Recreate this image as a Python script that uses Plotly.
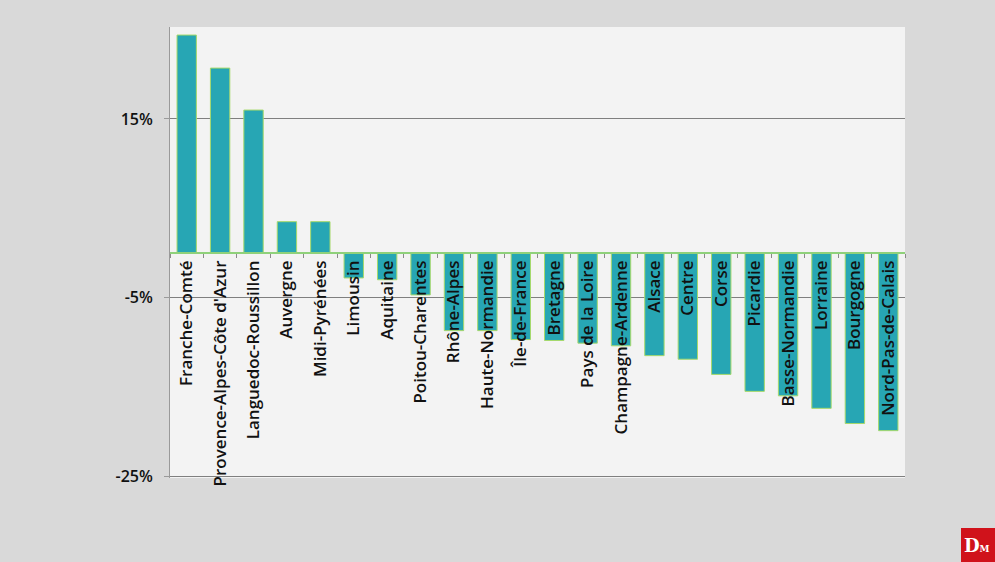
import plotly.graph_objects as go

regions = ["Franche-Comté", "Provence-Alpes-Côte d'Azur", "Languedoc-Roussillon", "Auvergne",
           "Midi-Pyrénées", "Limousin", "Aquitaine", "Poitou-Charentes", "Rhône-Alpes",
           "Haute-Normandie", "Île-de-France", "Bretagne", "Pays de la Loire",
           "Champagne-Ardenne", "Alsace", "Centre", "Corse", "Picardie", "Basse-Normandie",
           "Lorraine", "Bourgogne", "Nord-Pas-de-Calais"]
values = [24.4, 20.7, 16.0, 3.5, 3.5, -2.8, -3.0, -4.7, -8.7, -8.7, -9.7, -9.8, -10.1,
          -10.4, -11.5, -11.9, -13.6, -15.5, -16.0, -17.4, -19.1, -19.9]
y_ticks = [-25, -5, 15]
y_tick_labels = ["-25%", "-5%", "15%"]
y_range = [-25.2, 25.3]

fig = go.Figure(go.Bar(
    x=regions, y=values,
    marker=dict(color="#27a6b4", line=dict(color="#a6d96a", width=1)),
))

zero_pos = (0 - y_range[0]) / (y_range[1] - y_range[0])

def px_x(p):
    return (p - 170) / 735

def px_y(p):
    return (478 - p) / 451

fig.update_layout(
    width=995, height=562,
    margin=dict(l=170, r=90, t=27, b=84),
    paper_bgcolor="#d9d9d9",
    plot_bgcolor="#f3f3f3",
    bargap=0.42,
    showlegend=False,
    font=dict(family="Open Sans", color="#111111"),
    xaxis=dict(
        anchor="free", position=zero_pos,
        tickangle=-90,
        showline=True, linecolor="#8fd17a", linewidth=1.5,
        ticks="outside", ticklen=4, tickcolor="#8a8a8a", tickson="boundaries",
        tickfont=dict(size=17, family="Open Sans", color="#111111", weight=600),
        showgrid=False,
    ),
    yaxis=dict(
        range=y_range,
        tickvals=y_ticks, ticktext=y_tick_labels,
        showgrid=True, gridcolor="#7f7f7f", gridwidth=1,
        zeroline=False,
        showline=True, linecolor="#9a9a9a", linewidth=1,
        ticks="outside", ticklen=5, tickcolor="#9a9a9a",
        ticklabelstandoff=8,
        tickfont=dict(size=16, family="Open Sans", color="#111111", weight=600),
    ),
    shapes=[dict(type="rect", xref="paper", yref="paper",
                 x0=px_x(961), x1=px_x(996), y0=px_y(563), y1=px_y(528),
                 fillcolor="#d0121b", line=dict(width=0), layer="above")],
    annotations=[dict(text="<b>D</b><span style='font-size:9px'><b>M</b></span>",
                      xref="paper", yref="paper",
                      x=px_x(962), y=px_y(545), xanchor="left", yanchor="middle",
                      showarrow=False,
                      font=dict(family="DejaVu Serif", size=18, color="white"))],
)

fig.write_html("out.html", config={"displayModeBar": False},
               post_script="document.body.style.margin='0';document.body.style.background='#d9d9d9';")
